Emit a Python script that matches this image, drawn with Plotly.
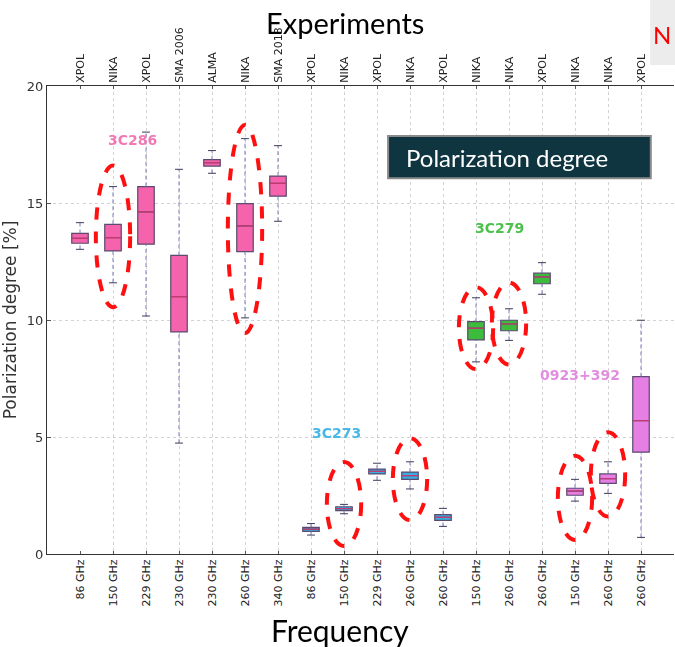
import plotly.graph_objects as go

# ---------------- data ----------------
experiments = ["XPOL", "NIKA", "XPOL", "SMA 2006", "ALMA", "NIKA", "SMA 2013",
               "XPOL", "NIKA", "XPOL", "NIKA", "XPOL",
               "NIKA", "NIKA", "XPOL",
               "NIKA", "NIKA", "XPOL"]
frequencies = ["86 GHz", "150 GHz", "229 GHz", "230 GHz", "230 GHz", "260 GHz", "340 GHz",
               "86 GHz", "150 GHz", "229 GHz", "260 GHz", "260 GHz",
               "150 GHz", "260 GHz", "260 GHz",
               "150 GHz", "260 GHz", "260 GHz"]
sources = ["3C286"] * 7 + ["3C273"] * 5 + ["3C279"] * 3 + ["0923+392"] * 3

whisker_low = [13.02, 11.59, 10.17, 4.74, 16.27, 10.09, 14.22,
               0.81, 1.72, 3.15, 2.78, 1.18,
               8.21, 9.13, 11.10,
               2.26, 2.59, 0.71]
q1 = [13.28, 12.95, 13.24, 9.49, 16.58, 12.92, 15.29,
      0.97, 1.85, 3.42, 3.19, 1.44,
      9.15, 9.54, 11.55,
      2.51, 3.02, 4.35]
median = [13.49, 13.52, 14.62, 11.00, 16.72, 14.02, 15.84,
          1.06, 1.94, 3.53, 3.35, 1.57,
          9.65, 9.83, 11.84,
          2.69, 3.22, 5.70]
q3 = [13.70, 14.09, 15.70, 12.76, 16.85, 14.97, 16.15,
      1.14, 2.02, 3.63, 3.50, 1.68,
      9.93, 9.99, 12.00,
      2.81, 3.42, 7.58]
whisker_high = [14.16, 15.70, 18.03, 16.44, 17.24, 17.75, 17.45,
                1.30, 2.12, 3.88, 3.94, 1.95,
                10.95, 10.48, 12.45,
                3.19, 3.94, 9.99]

source_names = ["3C286", "3C273", "3C279", "0923+392"]
# highlighted (NIKA) measurements: index, y-bottom, y-top of the dashed ellipse
highlights = [(1, 10.55, 16.6), (5, 9.44, 18.33), (8, 0.34, 3.93), (10, 1.45, 4.95),
              (12, 7.9, 11.4), (13, 8.1, 11.6), (15, 0.6, 4.2), (16, 1.6, 5.2)]

# ---------------- styles ----------------
fill_colors = {"3C286": "#f463ab", "3C273": "#3aaee0", "3C279": "#3dbb3d", "0923+392": "#e57fe3"}
label_colors = {"3C286": "#f27ab4", "3C273": "#45b8e8", "3C279": "#4cc24c", "0923+392": "#e08ee0"}
label_pos = {"3C286": (1.6, 17.7), "3C273": (7.76, 5.17), "3C279": (12.7, 13.93), "0923+392": (15.15, 7.65)}

xs = list(range(len(experiments)))
fig = go.Figure()

# whiskers (dashed) and caps
for i in xs:
    fig.add_trace(go.Scatter(x=[i, i, None, i, i], y=[whisker_low[i], q1[i], None, q3[i], whisker_high[i]],
                             mode="lines", line=dict(color="#7a78b8", width=1, dash="4px,3px"),
                             showlegend=False, hoverinfo="skip"))
    fig.add_trace(go.Scatter(x=[i - 0.12, i + 0.12, None, i - 0.12, i + 0.12],
                             y=[whisker_low[i], whisker_low[i], None, whisker_high[i], whisker_high[i]],
                             mode="lines", line=dict(color="#3a3a5a", width=1),
                             showlegend=False, hoverinfo="skip"))

# boxes
for s in source_names:
    idx = [i for i in xs if sources[i] == s]
    fig.add_trace(go.Box(x=idx, q1=[q1[i] for i in idx], median=[median[i] for i in idx],
                         q3=[q3[i] for i in idx], lowerfence=[q1[i] for i in idx],
                         upperfence=[q3[i] for i in idx], width=0.5,
                         fillcolor=fill_colors[s], line=dict(color="#5a4a6e", width=1.2),
                         showlegend=False, hoverinfo="skip", name=s))
    # median line overlay
    mx, my = [], []
    for i in idx:
        mx += [i - 0.25, i + 0.25, None]
        my += [median[i], median[i], None]
    fig.add_trace(go.Scatter(x=mx, y=my, mode="lines", line=dict(color="#c8386e", width=1.2),
                             showlegend=False, hoverinfo="skip"))

# invisible trace for top axis
fig.add_trace(go.Scatter(x=xs, y=median, xaxis="x2", mode="markers", opacity=0,
                         showlegend=False, hoverinfo="skip"))

# source labels
for s in source_names:
    fig.add_annotation(x=label_pos[s][0], y=label_pos[s][1], text="<b>" + s + "</b>", showarrow=False,
                       font=dict(family="DejaVu Sans", size=14, color=label_colors[s]))

# dashed red ellipses
for (i, y0, y1) in highlights:
    fig.add_shape(type="circle", xref="x", yref="y", x0=i - 0.52, x1=i + 0.52, y0=y0, y1=y1,
                  line=dict(color="#ff1010", width=4, dash="dash"))

# "Polarization degree" box
fig.add_shape(type="rect", xref="paper", yref="paper", x0=0.544, x1=0.963, y0=0.803, y1=0.893,
              fillcolor="#0f3540", line=dict(color="#8a8a8a", width=2))
fig.add_annotation(xref="paper", yref="paper", x=0.569, y=0.848, xanchor="left", yanchor="middle",
                   text="Polarization degree", showarrow=False,
                   font=dict(family="Lato", size=24, color="white"))

# top-right fragment
fig.add_shape(type="rect", xref="paper", yref="paper", x0=0.962, x1=1.01, y0=1.045, y1=1.19,
              fillcolor="#ececec", line=dict(width=0), layer="below")
fig.add_annotation(xref="paper", yref="paper", x=0.998, y=1.109, xanchor="right", yanchor="middle",
                   text="N", showarrow=False, font=dict(family="Lato", size=24, color="#ff0000"))

# titles
fig.add_annotation(xref="paper", yref="paper", x=0.476, y=1.135, text="Experiments", showarrow=False,
                   font=dict(family="Lato", size=29, color="black"), yanchor="middle")
fig.add_annotation(xref="paper", yref="paper", x=0.468, y=-0.162, text="Frequency", showarrow=False,
                   font=dict(family="Lato", size=30, color="black"), yanchor="middle")

axis_common = dict(range=[-1, 18], tickvals=xs, tickangle=-90,
                   tickfont=dict(family="DejaVu Sans", size=11, color="#222"),
                   ticks="inside", ticklen=3, tickcolor="#555")
fig.update_layout(
    width=675, height=647,
    margin=dict(l=47, r=1, t=86, b=93),
    plot_bgcolor="white", paper_bgcolor="white",
    xaxis=dict(**axis_common, ticktext=frequencies, showgrid=True, gridcolor="#d2d2d2",
               griddash="dot", showline=True, linecolor="#333", linewidth=1, zeroline=False),
    xaxis2=dict(**axis_common, ticktext=experiments, overlaying="x", side="top", matches="x",
                showgrid=False, showline=True, linecolor="#333", linewidth=1),
    yaxis=dict(range=[0, 20], tickvals=[0, 5, 10, 15, 20], showgrid=True, gridcolor="#d2d2d2",
               griddash="dot", showline=True, linecolor="#333", linewidth=1, zeroline=False,
               ticks="inside", ticklen=4, tickcolor="#555",
               tickfont=dict(family="DejaVu Sans", size=13, color="#333"),
               title=dict(text="Polarization degree [%]", standoff=12,
                          font=dict(family="DejaVu Sans", size=17, color="#333"))),
)

fig.write_html("out.html")
